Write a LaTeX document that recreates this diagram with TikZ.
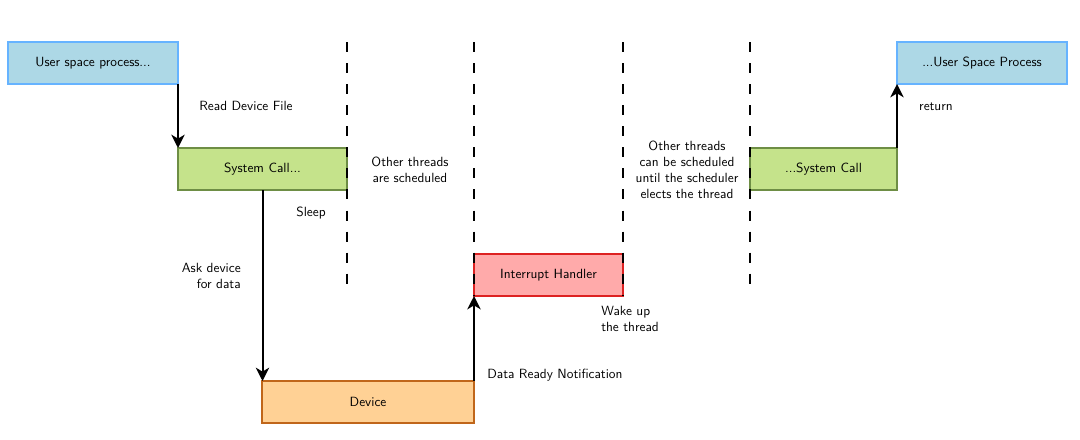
\documentclass[tikz,border=0pt]{standalone}
\usetikzlibrary{arrows.meta}
\definecolor{ubfill}{HTML}{ADD8E6}
\definecolor{ubdraw}{HTML}{66B3FF}
\definecolor{sgfill}{HTML}{C5E38B}
\definecolor{sgdraw}{HTML}{6E8E45}
\definecolor{irfill}{HTML}{FFAAAA}
\definecolor{irdraw}{HTML}{DD2222}
\definecolor{dvfill}{HTML}{FFD195}
\definecolor{dvdraw}{HTML}{C0661A}
\tikzset{
  box/.style={rectangle, line width=1.5pt, inner sep=0pt, outer sep=0pt, font=\sffamily},
  userbox/.style={box, fill=ubfill, draw=ubdraw},
  sysbox/.style={box, fill=sgfill, draw=sgdraw},
  irqbox/.style={box, fill=irfill, draw=irdraw},
  devbox/.style={box, fill=dvfill, draw=dvdraw},
  arr/.style={line width=1.5pt, -{Stealth[length=10pt,width=10pt,inset=3pt]}},
  sep/.style={line width=1.6pt, dash pattern=on 7.5pt off 8.3pt},
  lbl/.style={font=\sffamily, inner sep=0pt, align=center},
}
\begin{document}
\begin{tikzpicture}[x=0.75pt, y=-0.75pt]
\useasboundingbox (0,0) rectangle (1080,439);
% boxes
\node[userbox, minimum width=170*0.75pt, minimum height=42*0.75pt] (user) at (93,63) {User space process...};
\node[sysbox, minimum width=169*0.75pt, minimum height=42*0.75pt] (sys1) at (262.5,169) {System Call...};
\node[irqbox, minimum width=149*0.75pt, minimum height=42*0.75pt] (irq) at (548.5,275) {Interrupt Handler};
\node[devbox, minimum width=212*0.75pt, minimum height=42*0.75pt] (dev) at (368,402) {Device};
\node[sysbox, minimum width=147*0.75pt, minimum height=42*0.75pt] (sys2) at (823.5,169) {...System Call};
\node[userbox, minimum width=170*0.75pt, minimum height=42*0.75pt] (user2) at (982,63) {...User Space Process};
% separators
\coordinate (s1t) at (347,42); \coordinate (s1b) at (347,285);
\coordinate (s2t) at (474,42); \coordinate (s2b) at (474,296);
\coordinate (s3t) at (623,42); \coordinate (s3b) at (623,296);
\coordinate (s4t) at (750,42); \coordinate (s4b) at (750,285);
\draw[sep] (s1t) -- (s1b);
\draw[sep] (s2t) -- (s2b);
\draw[sep] (s3t) -- (s3b);
\draw[sep] (s4t) -- (s4b);
% arrows
\draw[arr] (user.south east) -- (sys1.north west);
\draw[arr] (sys1.south) -- (sys1.south |- dev.north);
\draw[arr] (dev.north east) -- (irq.south west);
\draw[arr] (sys2.north east) -- (user2.south west);
% labels
\node[lbl] (l1) at (246,106) {Read Device File};
\node[lbl] (l2) at (410,170) {Other threads\\are scheduled};
\node[lbl] (l3) at (311,213) {Sleep};
\node[lbl, align=right, anchor=east] (l4) at (241,276) {Ask device\\for data};
\node[lbl, align=left, anchor=west] (l5) at (601,319) {Wake up\\the thread};
\node[lbl, anchor=west] (l6) at (487,375) {Data Ready Notification};
\node[lbl] (l7) at (687,170) {Other threads\\can be scheduled\\until the scheduler\\elects the thread};
\node[lbl] (l8) at (936,107) {return};
\end{tikzpicture}
\end{document}
